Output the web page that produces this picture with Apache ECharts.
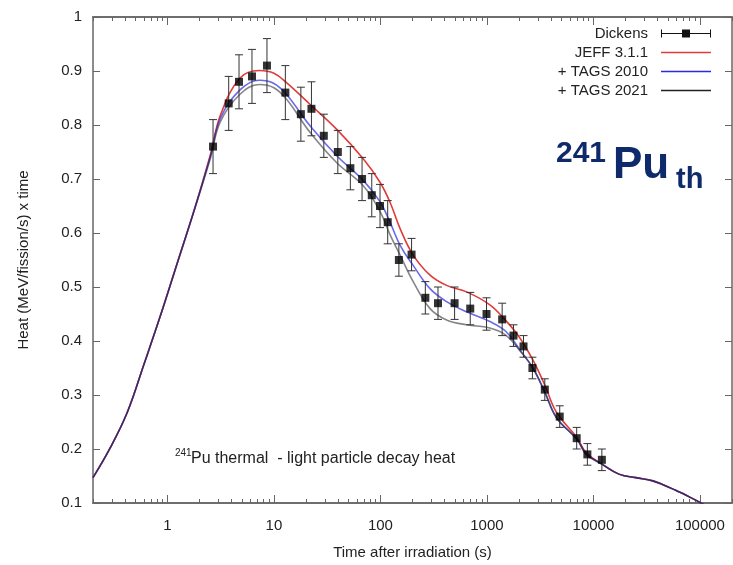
<!DOCTYPE html>
<html>
<head>
<meta charset="utf-8">
<script src="https://cdn.jsdelivr.net/npm/echarts@6/dist/echarts.min.js"></script>
<style>
  html, body { margin: 0; padding: 0; background: #fff; }
  #chart { width: 733px; height: 565px; }
</style>
</head>
<body>
<div id="chart"></div>
<script>
// Dickens measurements (time in s, heat x time, error)
var dickensT = [2.68, 3.76, 4.70, 6.22, 8.6, 12.8, 17.9, 22.5, 29.4, 39.8, 52.2, 67.2, 82.9, 99.1, 117,
  149, 196, 264, 347, 497, 697, 991, 1390, 1775, 2205, 2673, 3494, 4824, 6960, 8770, 12000];
var dickensV = [0.76, 0.84, 0.88, 0.89, 0.91, 0.86, 0.82, 0.83, 0.78, 0.75, 0.72, 0.70, 0.67, 0.65, 0.62,
  0.55, 0.56, 0.48, 0.47, 0.47, 0.46, 0.45, 0.44, 0.41, 0.39, 0.35, 0.31, 0.26, 0.22, 0.19, 0.18];
var dickensErr = [0.05, 0.05, 0.05, 0.05, 0.05, 0.05, 0.05, 0.05, 0.04, 0.04, 0.04, 0.04, 0.04, 0.04, 0.04,
  0.03, 0.03, 0.03, 0.03, 0.03, 0.03, 0.03, 0.03, 0.02, 0.02, 0.02, 0.02, 0.02, 0.02, 0.02, 0.02];

// calculation curves, read at these times
var curveT = [0.2, 0.29, 0.42, 0.6, 0.86, 1.24, 1.75, 2.53, 3.14, 4.8, 7.3, 10, 13.2, 21.9, 38.9,
  69.2, 99, 123, 153, 203, 292, 418, 644, 1065, 1500, 2000, 2700, 3500, 4500, 7000,
  8570, 12000, 17600, 25000, 36100, 45000, 59800, 75000, 100000, 200000];
var jeff = [0.147, 0.202, 0.268, 0.356, 0.447, 0.545, 0.637, 0.745, 0.818, 0.887, 0.901, 0.896, 0.878, 0.838, 0.792,
  0.737, 0.694, 0.657, 0.608, 0.559, 0.522, 0.503, 0.491, 0.467, 0.438, 0.408, 0.365, 0.318, 0.268, 0.221,
  0.193, 0.172, 0.153, 0.147, 0.141, 0.134, 0.123, 0.114, 0.101, 0.07];
var tags2010 = [0.147, 0.202, 0.268, 0.356, 0.447, 0.545, 0.637, 0.742, 0.812, 0.865, 0.883, 0.877, 0.856, 0.798, 0.743,
  0.697, 0.658, 0.620, 0.577, 0.540, 0.497, 0.473, 0.454, 0.436, 0.418, 0.386, 0.350, 0.305, 0.258, 0.218,
  0.190, 0.172, 0.153, 0.147, 0.141, 0.134, 0.123, 0.114, 0.101, 0.07];
var tags2021 = [0.147, 0.202, 0.268, 0.356, 0.447, 0.545, 0.637, 0.738, 0.806, 0.857, 0.875, 0.869, 0.847, 0.786, 0.730,
  0.687, 0.640, 0.597, 0.559, 0.510, 0.460, 0.439, 0.430, 0.424, 0.411, 0.384, 0.350, 0.305, 0.258, 0.218,
  0.190, 0.172, 0.153, 0.147, 0.141, 0.134, 0.123, 0.114, 0.101, 0.07];

// axis ticks
var majorTicks = [1, 10, 100, 1000, 10000, 100000];
var minorTicks = [];
[0.1, 1, 10, 100, 1000, 10000, 100000].forEach(function (d) {
  for (var k = 2; k <= 9; k++) minorTicks.push(d * k);
});

var FONT = 'Liberation Sans';
var NAVY = '#0f2a6a';

function zip(xs, ys) {
  return xs.map(function (x, i) { return [x, ys[i]]; });
}

var chart = echarts.init(document.getElementById('chart'));

var xBase = {
  type: 'log', min: 0.2, max: 200000, gridIndex: 0,
  axisLine: { show: true, lineStyle: { color: '#666', width: 1.5 } },
  splitLine: { show: false },
  axisLabel: { show: false },
  axisTick: { inside: true, lineStyle: { color: '#666' } }
};
function xAxis(pos, ticks, len, labels) {
  var a = echarts.util.merge({}, xBase, true);
  a.position = pos;
  a.axisTick.length = len;
  a.axisTick.customValues = ticks;
  if (labels) {
    a.axisLabel = {
      show: true, customValues: ticks, fontSize: 15, color: '#222', fontFamily: FONT, margin: 15,
      formatter: function (v) { return String(Math.round(v)); }
    };
    a.name = 'Time after irradiation (s)';
    a.nameLocation = 'middle';
    a.nameGap = 42;
    a.nameTextStyle = { fontSize: 15, color: '#222', fontFamily: FONT };
  }
  return a;
}

var errorData = dickensT.map(function (t, i) { return [t, dickensV[i], dickensErr[i]]; });

function curve(name, values, color, opacity, z) {
  return {
    name: name, type: 'line', smooth: 0.4, showSymbol: false,
    data: zip(curveT, values), color: color, z: z,
    lineStyle: { width: 1.6, color: color, opacity: opacity }
  };
}

var option = {
  backgroundColor: '#fff',
  animation: false,
  grid: { left: 93, right: 1, top: 17, bottom: 59 },
  xAxis: [
    xAxis('bottom', majorTicks, 8, true),
    xAxis('bottom', minorTicks, 4, false),
    xAxis('top', majorTicks, 8, false),
    xAxis('top', minorTicks, 4, false)
  ],
  yAxis: [{
    type: 'value', min: 0.1, max: 1, interval: 0.1, position: 'left',
    axisLine: { show: true, lineStyle: { color: '#666', width: 1.5 } },
    axisTick: { show: true, inside: true, length: 7, lineStyle: { color: '#666' } },
    splitLine: { show: false },
    axisLabel: {
      fontSize: 15, color: '#222', fontFamily: FONT, margin: 11,
      formatter: function (v) { return String(Number(v.toFixed(1))); }
    },
    name: 'Heat (MeV/fission/s) x time',
    nameLocation: 'middle',
    nameGap: 62,
    nameTextStyle: { fontSize: 15, color: '#222', fontFamily: FONT }
  }, {
    type: 'value', min: 0.1, max: 1, interval: 0.1, position: 'right',
    axisLine: { show: true, lineStyle: { color: '#666', width: 1.5 } },
    axisTick: { show: true, inside: true, length: 7, lineStyle: { color: '#666' } },
    splitLine: { show: false },
    axisLabel: { show: false }
  }],
  legend: {
    orient: 'vertical', align: 'right', right: 22, top: 26,
    itemWidth: 50, itemHeight: 12, itemGap: 4, padding: 0,
    selectedMode: false,
    textStyle: { fontSize: 15, color: '#222', fontFamily: FONT, padding: [0, 8, 0, 0] },
    data: [
      { name: 'Dickens', icon: 'path://M0 0h1v8h-1z M0 3.5h50v1h-50z M49 0h1v8h-1z M21 0h8v8h-8z' },
      { name: 'JEFF 3.1.1', icon: 'path://M0 0h50v1.5h-50z' },
      { name: '+ TAGS 2010', icon: 'path://M0 0h50v1.5h-50z' },
      { name: '+ TAGS 2021', icon: 'path://M0 0h50v1.5h-50z' }
    ]
  },
  series: [
    curve('JEFF 3.1.1', jeff, '#e03c3c', 1, 2),
    curve('+ TAGS 2010', tags2010, '#2a2ae0', 0.7, 3),
    curve('+ TAGS 2021', tags2021, '#222222', 0.55, 4),
    {
      name: 'Dickens', type: 'custom', color: '#111', z: 5,
      data: errorData,
      encode: { x: 0, y: 1 },
      renderItem: function (params, api) {
        var t = api.value(0), v = api.value(1), e = api.value(2);
        var hi = api.coord([t, v + e]);
        var lo = api.coord([t, v - e]);
        var w = 4;
        var st = { stroke: '#333', lineWidth: 1 };
        return {
          type: 'group',
          children: [
            { type: 'line', shape: { x1: hi[0], y1: hi[1], x2: lo[0], y2: lo[1] }, style: st },
            { type: 'line', shape: { x1: hi[0] - w, y1: hi[1], x2: hi[0] + w, y2: hi[1] }, style: st },
            { type: 'line', shape: { x1: lo[0] - w, y1: lo[1], x2: lo[0] + w, y2: lo[1] }, style: st }
          ]
        };
      }
    }, {
      name: 'Dickens', type: 'scatter', symbol: 'rect', symbolSize: 8, z: 6,
      data: zip(dickensT, dickensV), itemStyle: { color: '#000' }
    }
  ],
  graphic: [
    { type: 'text', left: 556, top: 139, style: { text: '241', font: 'bold 30px "' + FONT + '"', fill: NAVY } },
    { type: 'text', left: 613, top: 144, style: { text: 'Pu', font: 'bold 44px "' + FONT + '"', fill: NAVY } },
    { type: 'text', left: 676, top: 165, style: { text: 'th', font: 'bold 29px "' + FONT + '"', fill: NAVY } },
    { type: 'text', left: 175, top: 448, style: { text: '241', font: '10px "' + FONT + '"', fill: '#222' } },
    { type: 'text', left: 191, top: 451, style: { text: 'Pu thermal  - light particle decay heat', font: '16px "' + FONT + '"', fill: '#222' } }
  ]
};

chart.setOption(option);
</script>
</body>
</html>
